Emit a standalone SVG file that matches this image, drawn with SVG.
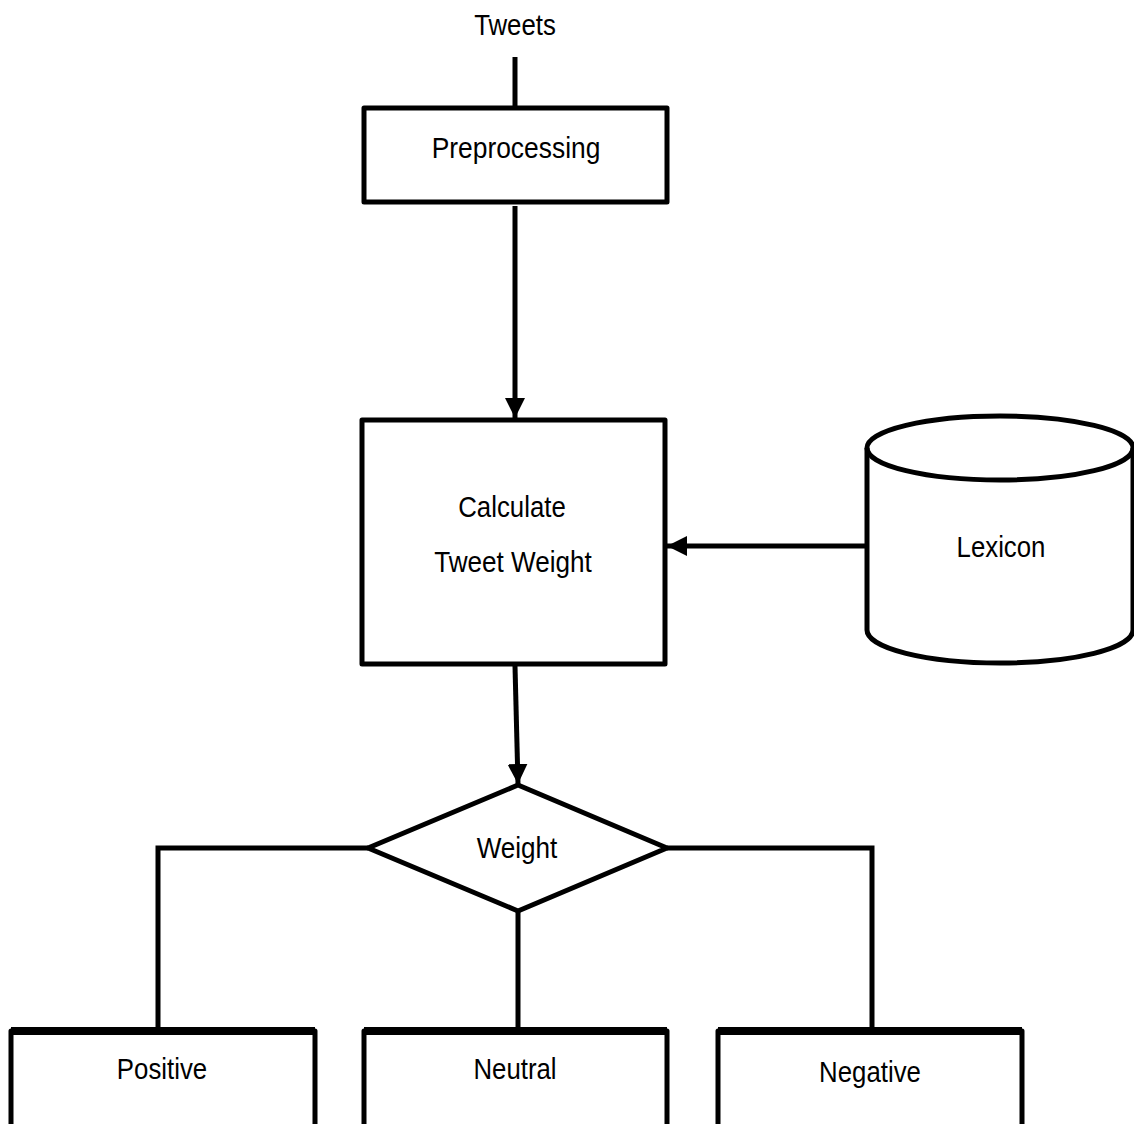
<svg xmlns="http://www.w3.org/2000/svg" width="1134" height="1124" viewBox="0 0 1134 1124">
<style>
.box{fill:#fff;stroke:#000;stroke-width:5;stroke-linejoin:round}
.ln{fill:none;stroke:#000;stroke-width:5}
.t{font-family:"Liberation Sans",Arial,sans-serif;font-size:30px;fill:#000;text-anchor:middle}
</style>
<defs>
<marker id="ah" markerWidth="4" markerHeight="4" refX="4" refY="2" orient="auto" markerUnits="strokeWidth">
<path d="M0,0 L4,2 L0,4 Z" fill="#000"/>
</marker>
</defs>
<rect width="1134" height="1124" fill="#fff"/>
<g id="connectors">
<line class="ln" x1="515" y1="57" x2="515" y2="108"/>
<line class="ln" x1="515" y1="206" x2="515" y2="418" marker-end="url(#ah)"/>
<line class="ln" x1="866" y1="546" x2="667" y2="546" marker-end="url(#ah)"/>
<line class="ln" x1="515" y1="666" x2="518" y2="784" marker-end="url(#ah)"/>
<polyline class="ln" points="368,848 158,848 158,1030"/>
<polyline class="ln" points="667,848 872,848 872,1030"/>
<line class="ln" x1="518" y1="911" x2="518" y2="1030"/>
</g>
<g id="tweets"><text class="t" transform="translate(515,35) scale(0.86,1)">Tweets</text></g>
<g id="preprocessing">
<rect class="box" x="364" y="108" width="303" height="94"/>
<text class="t" transform="translate(516,158) scale(0.88,1)">Preprocessing</text>
</g>
<g id="calculate">
<rect class="box" x="362" y="420" width="303" height="244"/>
<text class="t" transform="translate(512,517) scale(0.86,1)">Calculate</text>
<text class="t" transform="translate(513,572) scale(0.87,1)">Tweet Weight</text>
</g>
<g id="lexicon">
<path class="box" d="M867,448 L867,630 A133,33 0 0 0 1133,630 L1133,448 A133,32 0 0 0 867,448 Z"/>
<path class="ln" d="M867,448 A133,32 0 0 0 1133,448"/>
<text class="t" transform="translate(1001,557) scale(0.86,1)">Lexicon</text>
</g>
<g id="weight">
<polygon class="box" points="518,785 667,848 518,911 368,848"/>
<text class="t" transform="translate(517,858) scale(0.87,1)">Weight</text>
</g>
<g id="positive">
<rect class="box" x="11" y="1031" width="304" height="100"/>
<line x1="11" y1="1031" x2="315" y2="1031" stroke="#000" stroke-width="8"/>
<text class="t" transform="translate(162,1079) scale(0.86,1)">Positive</text>
</g>
<g id="neutral">
<rect class="box" x="364" y="1031" width="303" height="100"/>
<line x1="364" y1="1031" x2="667" y2="1031" stroke="#000" stroke-width="8"/>
<text class="t" transform="translate(515,1079) scale(0.86,1)">Neutral</text>
</g>
<g id="negative">
<rect class="box" x="718" y="1031" width="304" height="100"/>
<line x1="718" y1="1031" x2="1022" y2="1031" stroke="#000" stroke-width="8"/>
<text class="t" transform="translate(870,1082) scale(0.86,1)">Negative</text>
</g>
</svg>
